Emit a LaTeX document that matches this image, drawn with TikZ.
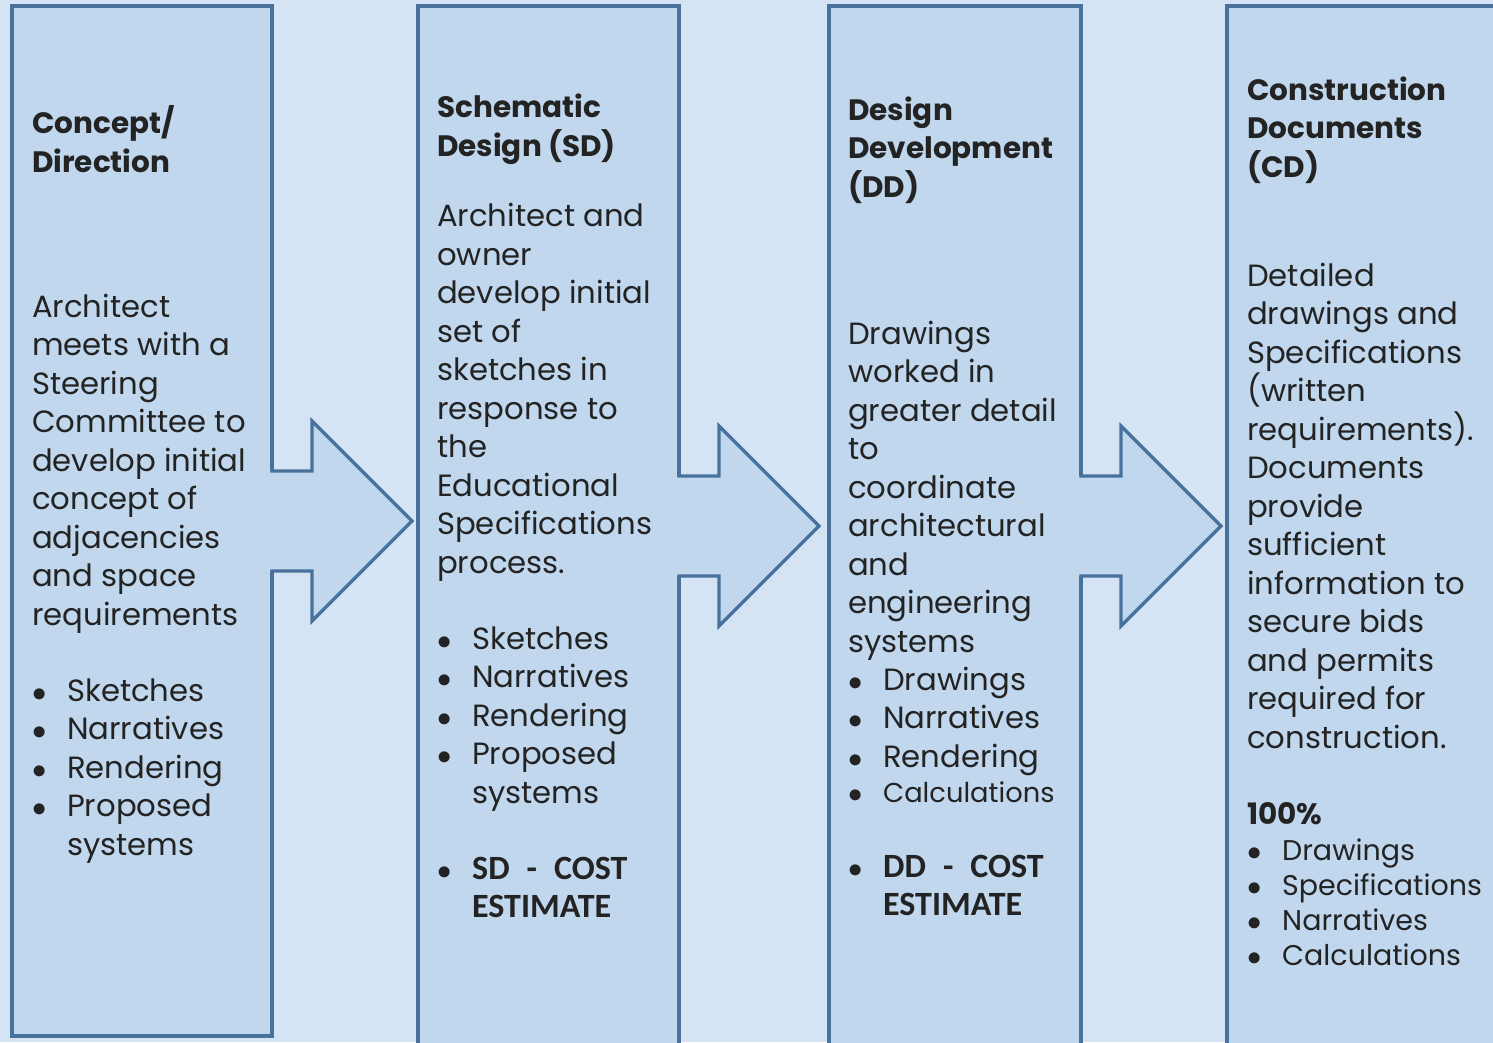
\documentclass[tikz,border=0pt]{standalone}
\usepackage{fontspec}
\setmainfont{Poppins}
\newfontfamily\costfont{Carlito}
\usetikzlibrary{calc}
\definecolor{pagebg}{RGB}{212,228,245}
\definecolor{stagefill}{RGB}{192,215,237}
\definecolor{stageline}{RGB}{72,114,156}
\definecolor{inkgray}{RGB}{35,35,35}
\newcommand{\itm}[1]{\makebox[35pt][l]{\scalebox{1.15}{$\bullet$}}#1}
\newcommand{\cnt}[1]{\hspace*{35pt}#1}

\begin{document}
\begin{tikzpicture}[x=1pt, y=-1pt,
	stage/.style={draw=stageline, fill=stagefill, line width=3.3pt,
		rectangle, inner sep=0pt, outer sep=0pt, anchor=north west},
	flow/.style={draw=stageline, line width=3.3pt, line join=miter},
	head/.style={anchor=base west, inner sep=0pt, align=left, text=inkgray,
		font=\bfseries\fontsize{29.5}{38.5}\selectfont},
	body/.style={anchor=base west, inner sep=0pt, align=left, text=inkgray,
		font=\fontsize{30.7}{38.5}\selectfont},
	small/.style={anchor=base west, inner sep=0pt, align=left, text=inkgray,
		font=\fontsize{28.5}{35}\selectfont},
	cost/.style={anchor=base west, inner sep=0pt, align=left, text=inkgray,
		font=\costfont\bfseries\fontsize{34}{37.5}\selectfont}
	]
	\useasboundingbox (0,0) rectangle (1493,1042);
	\fill[pagebg] (0,0) rectangle (1493,1042);
	\clip (0,0) rectangle (1493,1042);
	% the four stages
	\node[stage, minimum width=260pt, minimum height=1030pt] (concept) at (12,6) {};
	\node[stage, minimum width=261pt, minimum height=1040pt] (schematic) at (418,6) {};
	\node[stage, minimum width=252pt, minimum height=1040pt] (devel) at (829,6) {};
	\node[stage, minimum width=340pt, minimum height=1040pt] (constr) at (1227,6) {};
	% block arrows between stages
	\foreach \src in {concept, schematic, devel}{
		\fill[stagefill] ($(\src.east)+(-4,-50)$) -- ++(44,0) -- ++(0,-50) -- ++(100,100)
			-- ++(-100,100) -- ++(0,-50) -- ++(-44,0) -- cycle;
		\draw[flow] ($(\src.east)+(-1.65,-50)$) -- ++(41.65,0) -- ++(0,-50) -- ++(100,100)
			-- ++(-100,100) -- ++(0,-50) -- ++(-41.65,0);
	}
	% concept (nodes sit on the baseline of their last line)
	\node[head] (conceptH) at (32,172) {Concept/\\Direction};
	\node[body] (conceptB) at (32,625) {Architect\\meets with a\\Steering\\Committee to\\develop initial\\concept of\\adjacencies\\and space\\requirements};
	\node[body] (conceptL) at (32,855) {\itm{Sketches}\\\itm{Narratives}\\\itm{Rendering}\\\itm{Proposed}\\\cnt{systems}};
	% schematic design
	\node[head] (schematicH) at (437,156) {Schematic\\Design (SD)};
	\node[body] (schematicB) at (437,573) {Architect and\\owner\\develop initial\\set of\\sketches in\\response to\\the\\Educational\\Specifications\\process.};
	\node[body] (schematicL) at (437,803) {\itm{Sketches}\\\itm{Narratives}\\\itm{Rendering}\\\itm{Proposed}\\\cnt{systems}};
	\node[cost] (schematicC) at (437,917) {\itm{SD\enspace-\enspace COST}\\\cnt{ESTIMATE}};
	% design development
	\node[head] (develH) at (848,197) {Design\\Development\\(DD)};
	\node[body] (develB) at (848,652) {Drawings\\worked in\\greater detail\\to\\coordinate\\architectural\\and\\engineering\\systems};
	\node[body] (develL) at (848,767) {\itm{Drawings}\\\itm{Narratives}\\\itm{Rendering}};
	\node[small, font=\fontsize{27.3}{35}\selectfont] (develS) at (848,802) {\itm{Calculations}};
	\node[cost] (develC) at (848,915) {\itm{DD\enspace-\enspace COST}\\\cnt{ESTIMATE}};
	% construction documents
	\node[head] (constrH) at (1247,177) {Construction\\Documents\\(CD)};
	\node[body] (constrB) at (1247,748) {Detailed\\drawings and\\Specifications\\(written\\requirements).\\Documents\\provide\\sufficient\\information to\\secure bids\\and permits\\required for\\construction.};
	\node[head] (constrP) at (1247,824) {100\%};
	\node[small] (constrL) at (1247,965) {\itm{Drawings}\\\itm{Specifications}\\\itm{Narratives}\\\itm{Calculations}};
\end{tikzpicture}
\end{document}
